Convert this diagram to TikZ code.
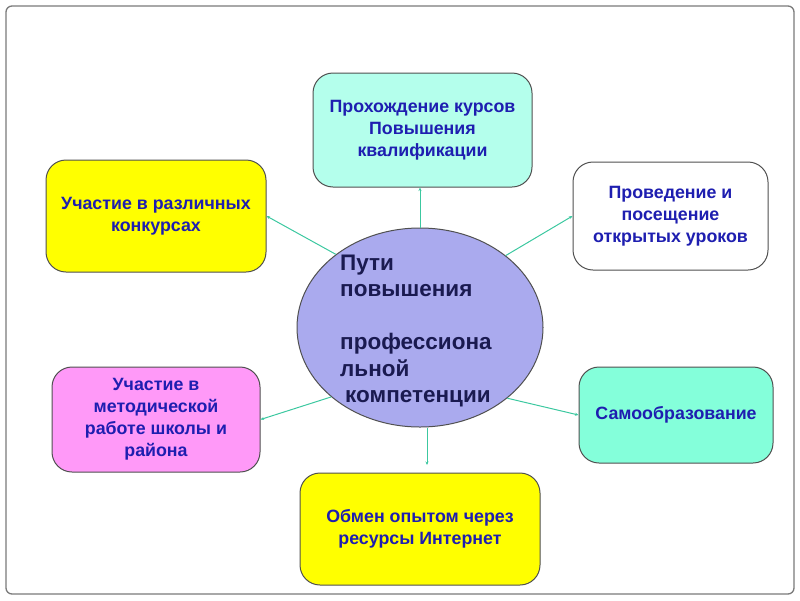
\documentclass[tikz,border=0pt]{standalone}
\usepackage{fontspec}
\setmainfont{Liberation Sans}
\usetikzlibrary{shapes.geometric,arrows.meta}
\definecolor{framegray}{HTML}{7A7A7A}
\definecolor{boxborder}{HTML}{505050}
\definecolor{boxtext}{HTML}{1E1EB0}
\definecolor{centertext}{HTML}{1A1A50}
\definecolor{connteal}{HTML}{3CC8A0}
\definecolor{lightaqua}{HTML}{B4FFEC}
\definecolor{aqua}{HTML}{84FFDA}
\definecolor{pinkbox}{HTML}{FF99F8}
\definecolor{ellfill}{HTML}{AAAAEE}
\definecolor{pureyellow}{HTML}{FFFF00}
\begin{document}
\begin{tikzpicture}[x=1pt,y=-1pt,
  frame/.style={draw=framegray,line width=1.3pt,rounded corners=6pt},
  topicbox/.style={draw=boxborder,line width=1pt,rounded corners=20pt,align=center,
    text=boxtext,font=\bfseries\fontsize{17.8}{22}\selectfont,inner sep=4pt},
  centre/.style={ellipse,draw=boxborder,line width=1pt,fill=ellfill,inner sep=0pt,
    minimum width=246pt,minimum height=199pt},
  centretext/.style={align=left,text=centertext,inner sep=0pt,
    font=\bfseries\fontsize{22.5}{26.5}\selectfont},
  conn/.style={draw=connteal,line width=1pt,-{Stealth[length=3.5pt,width=3pt]}}]
\useasboundingbox (0,0) rectangle (800,600);
\draw[frame] (6,6) rectangle (794,594);

\node[centre] (c) at (420,327.5) {};
\node[centretext,anchor=west] (ct) at (340,331) {Пути\\повышения\\[26.5pt]профессиона\\льной\\\hspace{5pt}компетенции};

\node[topicbox,fill=lightaqua,minimum width=219pt,minimum height=114pt] (t) at (422.5,130)
  {Прохождение курсов\\Повышения\\квалификации};
\node[topicbox,fill=pureyellow,minimum width=220pt,minimum height=112pt] (lt) at (156,216)
  {Участие в различных\\конкурсах};
\node[topicbox,fill=white,minimum width=195pt,minimum height=108pt] (rt) at (670.5,216)
  {Проведение и\\посещение\\открытых уроков};
\node[topicbox,fill=pinkbox,minimum width=208pt,minimum height=105pt] (lb) at (156,419.5)
  {Участие в\\методической\\работе школы и\\района};
\node[topicbox,fill=aqua,minimum width=194pt,minimum height=96pt] (rb) at (676,415)
  {Самообразование};
\node[topicbox,fill=pureyellow,minimum width=240pt,minimum height=112pt] (b) at (420,529)
  {Обмен опытом через\\ресурсы Интернет};

\coordinate (bend) at (427,465);
\draw[conn] (c.north) -- (c.north |- t.south);
\draw[conn] (c.139) -- (lt.east);
\draw[conn] (c.40) -- (rt.west);
\draw[conn] (c.218) -- (lb.east);
\draw[conn] (c.321) -- (rb.west);
\draw[conn] (bend |- c.south) -- (bend);
\end{tikzpicture}
\end{document}
